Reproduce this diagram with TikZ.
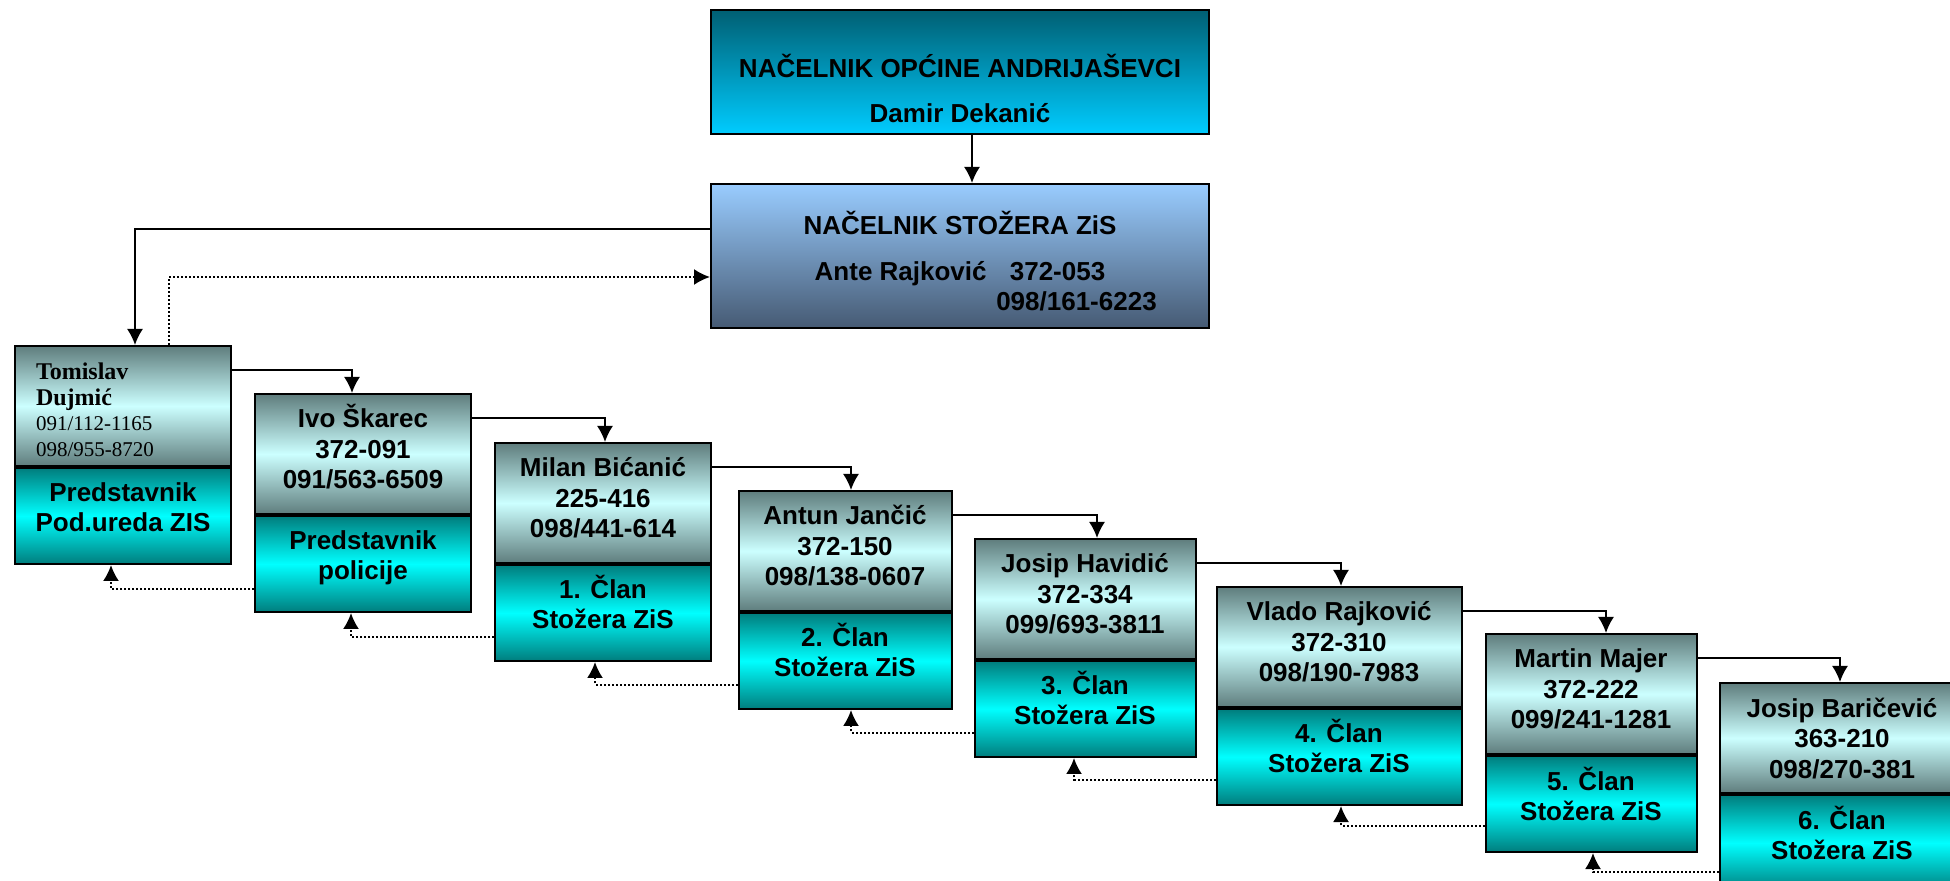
\documentclass[tikz,border=0pt]{standalone}
\usepackage{fontspec}
\setmainfont{Liberation Sans}
\newfontfamily\timesfont{Liberation Serif}
\usetikzlibrary{positioning,arrows.meta}
\definecolor{opctop}{RGB}{0,95,115}
\definecolor{opcbot}{RGB}{0,204,255}
\definecolor{stztop}{RGB}{153,204,255}
\definecolor{stzbot}{RGB}{70,90,115}
\definecolor{pergray}{RGB}{95,125,125}
\definecolor{perlight}{RGB}{204,255,255}
\definecolor{dutyteal}{RGB}{0,125,125}
\definecolor{dutycyan}{RGB}{0,255,255}

\begin{document}
\begin{tikzpicture}[x=0.5pt,y=-0.5pt,node distance={120pt},
        >={Latex[length=8pt,width=8pt]},
        every node/.style = {font=\bfseries\fontsize{13pt}{15.25pt}\selectfont, inner sep=0pt},
        head/.style = {draw, line width=1pt, minimum width=249pt, align=center},
        person/.style = {draw, line width=1pt, minimum width=108pt, minimum height=60pt, align=center,
                top color=pergray, bottom color=pergray, middle color=perlight, text height=37pt, text depth=2pt},
        duty/.style = {draw, line width=1pt, minimum width=108pt, minimum height=48pt, align=center,
                top color=dutyteal, bottom color=dutyteal, middle color=dutycyan, text height=18pt, text depth=2pt,
                font=\bfseries\fontsize{13pt}{15pt}\selectfont},
        link/.style = {line width=0.9pt},
        back/.style = {line width=1pt, dash pattern=on 1pt off 1pt}]
        \useasboundingbox (0,0) rectangle (1950,881);
        \node[head, minimum height=62pt, top color=opctop, bottom color=opcbot, text height=53pt, text depth=2pt] (opcina) at (960,72) {NAČELNIK OPĆINE ANDRIJAŠEVCI\\[7.5pt] Damir Dekanić};
        \node[head, minimum height=72pt, top color=stztop, bottom color=stzbot, text height=57pt, text depth=2pt] (stozer) [below=24pt of opcina] {NAČELNIK STOŽERA ZiS\\[7.5pt] Ante Rajković\hspace{8pt} 372-053\\ \hspace*{116.5pt}098/161-6223};
        \node[person, align=left, text width=87pt, text height=9pt, text depth=35pt, font=\timesfont\fontsize{10.5pt}{12.75pt}\selectfont] (1) at (123,406) {\textbf{\fontsize{12pt}{13pt}\selectfont Tomislav}\\ \textbf{\fontsize{12pt}{13pt}\selectfont Dujmić}\\ 091/112-1165\\ 098/955-8720};
        \node[duty] (1r) [below=0pt of 1] {Predstavnik\\ Pod.ureda ZIS};
        \node[person] (2) [right of=1, yshift=-24pt] {Ivo Škarec\\ 372-091\\ 091/563-6509};
        \node[duty] (2r) [below=0pt of 2] {Predstavnik\\ policije};
        \node[person] (3) [right of=2, yshift=-24.5pt] {Milan Bićanić\\ 225-416\\ 098/441-614};
        \node[duty] (3r) [below=0pt of 3] {1. Član\\ Stožera ZiS};
        \node[person, minimum width=106.5pt] (4) [right of=3, xshift=1pt, yshift=-24pt] {Antun Jančić\\ 372-150\\ 098/138-0607};
        \node[duty, minimum width=106.5pt] (4r) [below=0pt of 4] {2. Član\\ Stožera ZiS};
        \node[person, minimum width=110.5pt] (5) [right of=4, yshift=-24pt] {Josip Havidić\\ 372-334\\ 099/693-3811};
        \node[duty, minimum width=110.5pt] (5r) [below=0pt of 5] {3. Član\\ Stožera ZiS};
        \node[person, minimum width=122.5pt] (6) [right of=5, xshift=7pt, yshift=-24pt] {Vlado Rajković\\ 372-310\\ 098/190-7983};
        \node[duty, minimum width=122.5pt] (6r) [below=0pt of 6] {4. Član\\ Stožera ZiS};
        \node[person, minimum width=105.5pt] (7) [right of=6, xshift=6pt, yshift=-23.5pt] {Martin Majer\\ 372-222\\ 099/241-1281};
        \node[duty, minimum width=105.5pt] (7r) [below=0pt of 7] {5. Član\\ Stožera ZiS};
        \node[person, minimum width=122.5pt, minimum height=55pt, text height=42pt] (8) [right of=7, xshift=5.5pt, yshift=-22pt] {Josip Baričević\\ 363-210\\ 098/270-381};
        \node[duty, minimum width=122.5pt] (8r) [below=0pt of 8] {6. Član\\ Stožera ZiS};
        \draw[link,->] ([xshift=6pt]opcina.south) -- ([xshift=6pt]stozer.north);
        \draw[link,->] ([yshift=13.5pt]stozer.west) -| ([xshift=6pt]1.north);
        \draw[back,->] ([xshift=23pt]1.north) |- ([yshift=-10.5pt]stozer.west);
        \draw[link,->] ([yshift=18pt]1.east) -| ([xshift=-5.5pt]2.north);
        \draw[link,->] ([yshift=18pt]2.east) -| ([xshift=1pt]3.north);
        \draw[link,->] ([yshift=18pt]3.east) -| ([xshift=3pt]4.north);
        \draw[link,->] ([yshift=18pt]4.east) -| ([xshift=6pt]5.north);
        \draw[link,->] ([yshift=18pt]5.east) -| ([xshift=1pt]6.north);
        \draw[link,->] ([yshift=18pt]6.east) -| ([xshift=7.5pt]7.north);
        \draw[link,->] ([yshift=18pt]7.east) -| ([xshift=-1pt]8.north);
        \draw[back,->] ([yshift=-12.5pt]2r.west) -| ([xshift=-6pt]1r.south);
        \draw[back,->] ([yshift=-12pt]3r.west) -| ([xshift=-6pt]2r.south);
        \draw[back,->] ([yshift=-12pt]4r.west) -| ([xshift=-4pt]3r.south);
        \draw[back,->] ([yshift=-12pt]5r.west) -| ([xshift=3pt]4r.south);
        \draw[back,->] ([yshift=-11.5pt]6r.west) -| ([xshift=-5.5pt]5r.south);
        \draw[back,->] ([yshift=-11pt]7r.west) -| ([xshift=1pt]6r.south);
        \draw[back,->] ([yshift=-14.5pt]8r.west) -| ([xshift=1pt]7r.south);
\end{tikzpicture}
\end{document}
